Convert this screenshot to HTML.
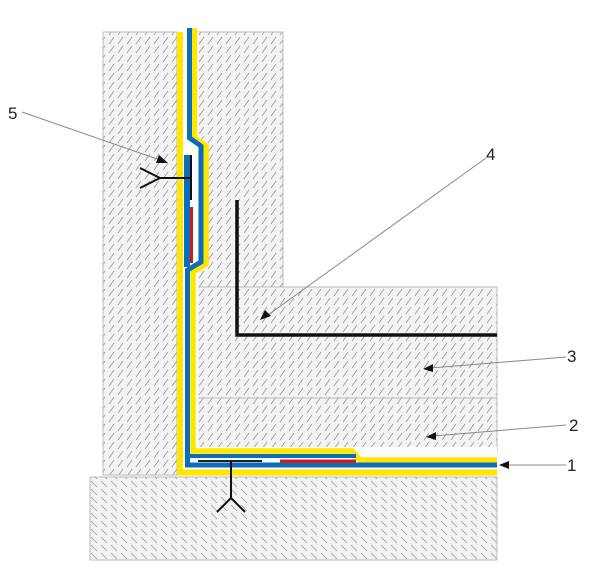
<!DOCTYPE html>
<html><head><style>
html,body{margin:0;padding:0;background:#fff;width:600px;height:586px;overflow:hidden}
text{font-family:"Liberation Sans",sans-serif;font-size:17px;fill:#222}
</style></head><body>
<svg width="600" height="586" viewBox="0 0 600 586" xmlns="http://www.w3.org/2000/svg">
<defs>
<pattern id="h" width="9" height="9" patternUnits="userSpaceOnUse">
<rect width="9" height="9" fill="#f3f3f3"/>
<line x1="1" y1="8" x2="6" y2="1" stroke="#999" stroke-width="0.8"/>
</pattern>
<pattern id="h2" width="10" height="8" patternUnits="userSpaceOnUse">
<rect width="10" height="8" fill="#f3f3f3"/>
<line x1="1" y1="1" x2="7" y2="7" stroke="#999" stroke-width="0.8"/>
</pattern>
</defs>
<g stroke="#bbb" stroke-width="1">
<rect x="103" y="32" width="74" height="443" fill="url(#h)"/>
<rect x="196" y="32" width="87" height="256" fill="url(#h)"/>
<rect x="197" y="287" width="300" height="111" fill="url(#h)"/>
<rect x="197" y="398" width="300" height="55" fill="url(#h)"/>
<rect x="90" y="477" width="407" height="83" fill="url(#h2)"/>
</g>
<rect x="177" y="32" width="21" height="444" fill="#fff"/>
<rect x="177" y="447" width="320" height="29" fill="#fff"/>
<!-- outer yellow -->
<path d="M180 32 V472.5 H497" fill="none" stroke="#ffe600" stroke-width="6"/>
<!-- inner yellow -->
<path d="M194.5 28 V138 L206 146 V264 L193 272 V451 H352 L360 460 H497" fill="none" stroke="#ffe600" stroke-width="5.5"/>
<!-- blue main -->
<path d="M189.5 28 V138 L201 146 V262 L187.5 270 V465 H497" fill="none" stroke="#0a6fba" stroke-width="5"/>
<path d="M187.5 456 H356" fill="none" stroke="#0a6fba" stroke-width="4"/>
<!-- vertical strip -->
<rect x="184" y="155" width="6" height="112" fill="#0a6fba"/>
<line x1="191" y1="155" x2="191" y2="200" stroke="#111" stroke-width="2"/>
<rect x="190" y="207" width="3" height="56" fill="#d21a1a"/>
<!-- horizontal strip -->
<line x1="198" y1="461" x2="262" y2="461" stroke="#222" stroke-width="2"/>
<rect x="280" y="459.5" width="76" height="3.5" fill="#d21a1a"/>
<!-- anchors -->
<g stroke="#111" stroke-width="2" fill="none">
<path d="M191 178 H160 M160 178 L140 168 M160 178 L140 188"/>
<path d="M231 461 V498 M231 498 L217 512 M231 498 L245 512"/>
</g>
<path d="M237 200 V335 H497" fill="none" stroke="#111" stroke-width="3.5"/>
<g stroke="#888" stroke-width="1">
<line x1="22" y1="112" x2="160" y2="160"/>
<line x1="486" y1="158" x2="268" y2="315"/>
<line x1="566" y1="357" x2="430" y2="368"/>
<line x1="566" y1="425" x2="433" y2="436"/>
<line x1="566" y1="465" x2="506" y2="465"/>
</g>
<g fill="#111">
<polygon points="168,163 156,163 159,155"/>
<polygon points="260,320 265,310 271,316"/>
<polygon points="423,369 433,364 433,372"/>
<polygon points="426,437 436,432 436,440"/>
<polygon points="499,465 509,461 509,469"/>
</g>
<text x="8" y="119">5</text>
<text x="486" y="160">4</text>
<text x="567" y="362">3</text>
<text x="569" y="431">2</text>
<text x="567" y="471">1</text>
</svg>
</body></html>
